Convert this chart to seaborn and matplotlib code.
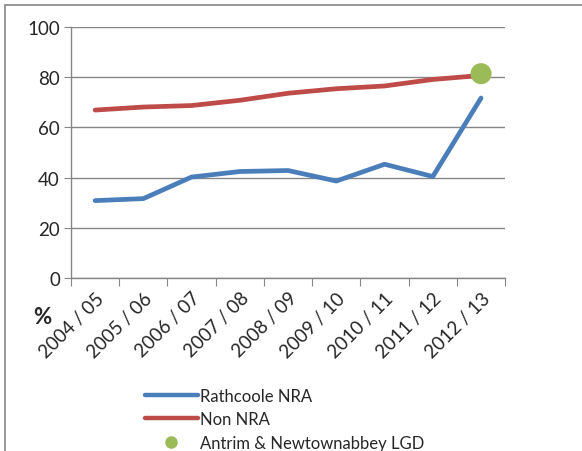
import seaborn as sns
import matplotlib.pyplot as plt
import pandas as pd
from matplotlib.patches import Rectangle
from matplotlib.lines import Line2D

# data
years = ['2004 / 05', '2005 / 06', '2006 / 07', '2007 / 08', '2008 / 09',
         '2009 / 10', '2010 / 11', '2011 / 12', '2012 / 13']
rathcoole = [30.8, 31.6, 40.2, 42.4, 42.8, 38.6, 45.3, 40.4, 71.7]
non_nra = [66.9, 68.1, 68.7, 70.8, 73.6, 75.4, 76.5, 79.1, 80.7]
lgd_year = '2012 / 13'
lgd_value = [81.4]

sns.set_style("white")
plt.rcParams['font.family'] = ['Lato', 'DejaVu Sans']

df = pd.DataFrame({'pos': range(len(years)), 'Rathcoole NRA': rathcoole, 'Non NRA': non_nra})
long = df.melt(id_vars='pos', var_name='series', value_name='pct')

fig = plt.figure(figsize=(5.82, 4.52), dpi=100)
ax = fig.add_axes([0.122, 0.383, 0.746, 0.555])

sns.lineplot(data=long, x='pos', y='pct', hue='series', palette=['#4a7ebb', '#be4b48'],
             linewidth=3.4, ax=ax, legend=False, solid_capstyle='round')
sns.scatterplot(x=[years.index(lgd_year)], y=lgd_value, color='#9bbb59', s=230,
                edgecolor='none', ax=ax, zorder=5)

ax.set_xlim(-0.5, len(years) - 0.5)
ax.set_ylim(0, 100)
ax.set_yticks(range(0, 101, 20))
ax.tick_params(axis='y', labelsize=13.5, length=5, color='#868686', direction='out', left=True, pad=3)
# category boundaries get tick marks, labels sit at the centres
ax.set_xticks([i - 0.5 for i in range(len(years) + 1)])
ax.set_xticklabels([])
ax.set_xticks(range(len(years)), minor=True)
ax.set_xticklabels(years, minor=True, rotation=45, ha='right', rotation_mode='anchor', fontsize=13.5)
ax.tick_params(axis='x', which='major', length=6, color='#868686', direction='out', bottom=True)
ax.tick_params(axis='x', which='minor', length=0, pad=8)
ax.grid(axis='y', color='#868686', linewidth=1)
ax.set_axisbelow(True)
for s in ['top', 'right']:
    ax.spines[s].set_visible(False)
for s in ['left', 'bottom']:
    ax.spines[s].set_color('#868686')
    ax.spines[s].set_linewidth(1)
ax.set_xlabel('')
ax.set_ylabel('')

fig.text(42 / 582, 1 - 318 / 452, '%', fontsize=16, fontweight='bold', ha='center', va='center')

# legend
handles = [Line2D([], [], color='#4a7ebb', lw=3.2, solid_capstyle='round'),
           Line2D([], [], color='#be4b48', lw=3.2, solid_capstyle='round'),
           Line2D([], [], color='#9bbb59', marker='o', ms=8, lw=0)]
fig.legend(handles, ['Rathcoole NRA', 'Non NRA', 'Antrim & Newtownabbey LGD'],
           loc='upper left', bbox_to_anchor=(138 / 582, 1 - 382 / 452), frameon=False,
           fontsize=12, handlelength=3.2, handletextpad=0.15, labelspacing=0.45,
           borderaxespad=0)

# outer frame at left and top
fig.patches.append(Rectangle((5 / 582, -0.1), 1.2, 1 - 6 / 452 + 0.1, transform=fig.transFigure,
                             fill=False, edgecolor='#868686', linewidth=1.2))

fig.savefig('out.png', dpi=100)
